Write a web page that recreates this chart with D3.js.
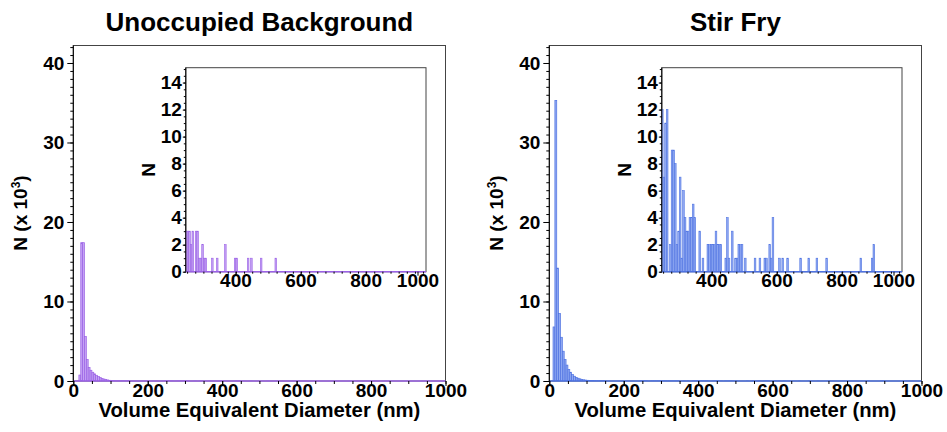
<!DOCTYPE html>
<html>
<head>
<meta charset="utf-8">
<script src="https://cdn.jsdelivr.net/npm/d3@7"></script>
<style>
  html, body { margin: 0; padding: 0; background: #fff; }
  svg text { font-family: "Liberation Sans", Arial, Helvetica, sans-serif; font-weight: bold; fill: #000; }
</style>
</head>
<body>
<svg id="chart" width="947" height="432"></svg>
<script>
// Particle size histograms, 5 nm bins (bin start diameter in nm)
const BIN_WIDTH = 5;

// Small particles: counts in thousands per bin
const smallBinStarts = [10, 15, 20, 25, 30, 35, 40, 45, 50, 55, 60, 65, 70, 75, 80, 85, 90, 95, 100, 105, 110, 115, 120, 125, 130, 135, 140, 145];
const backgroundSmallK = [0, 0.75, 17.4, 17.4, 5.6, 2.7, 1.7, 1.35, 1.1, 0.9, 0.72, 0.56, 0.43, 0.33, 0.25, 0.18, 0.13, 0.09, 0.06, 0.04, 0.03, 0.02, 0.015, 0.01, 0.008, 0.006, 0.005, 0.004];
const stirFrySmallK = [6.8, 35.3, 14.2, 8.5, 5.5, 3.75, 2.7, 2.0, 1.45, 1.1, 0.8, 0.6, 0.45, 0.35, 0.27, 0.2, 0.15, 0.12, 0.09, 0.07, 0.055, 0.045, 0.035, 0.03, 0.025, 0.02, 0.017, 0.015];

// Large particles: raw counts per bin
const backgroundLargeStarts = [245, 250, 255, 260, 265, 275, 280, 285, 290, 295, 300, 305, 325, 340, 365, 395, 400, 435, 445, 475, 520];
const backgroundLargeCounts = [3, 3, 3, 2, 3, 3, 3, 1, 1, 2, 1, 1, 1, 1, 2, 1, 1, 1, 1, 1, 1];
const stirFryLargeStarts = [245, 250, 255, 260, 270, 275, 280, 285, 290, 295, 300, 305, 310, 315, 320, 325, 330, 335, 340, 345, 360, 370, 385, 390, 395, 400, 405, 410, 415, 420, 425, 440, 445, 450, 460, 470, 475, 480, 485, 490, 500, 530, 545, 560, 565, 575, 580, 585, 605, 615, 630, 670, 695, 720, 750, 855, 890, 895];
const stirFryLargeCounts = [12, 7, 11, 12, 2, 9, 9, 8, 2, 3, 7, 1, 6, 4, 3, 3, 4, 4, 5, 4, 3, 1, 2, 2, 2, 2, 2, 3, 2, 2, 2, 1, 4, 1, 3, 1, 1, 2, 2, 2, 1, 1, 1, 1, 1, 2, 1, 4, 1, 1, 1, 1, 1, 1, 1, 1, 1, 2];

// Axis ticks and labels
const mainXTicks = [0, 200, 400, 600, 800, 1000];
const mainYTicks = [0, 10, 20, 30, 40];
const insetXTicks = [400, 600, 800, 1000];
const insetYTicks = [0, 2, 4, 6, 8, 10, 12, 14];
const panelTitles = ["Unoccupied Background", "Stir Fry"];
const xAxisTitle = "Volume Equivalent Diameter (nm)";
const insetYTitle = "N";

const panels = [
  { title: panelTitles[0], small: backgroundSmallK, largeStarts: backgroundLargeStarts, largeCounts: backgroundLargeCounts,
    stroke: "#9b62e6", fill: "#c4a2f3", ox: 0 },
  { title: panelTitles[1], small: stirFrySmallK, largeStarts: stirFryLargeStarts, largeCounts: stirFryLargeCounts,
    stroke: "#4f73e2", fill: "#91aaf2", ox: 476 }
];

const svg = d3.select("#chart");
const FONT = 19;
const frameColor = "#444";
const fmt = d3.format("d");

function buildBins(p) {
  const bins = [];
  smallBinStarts.forEach((s, i) => { if (p.small[i] > 0) bins.push({ start: s, count: p.small[i] * 1000 }); });
  p.largeStarts.forEach((s, i) => bins.push({ start: s, count: p.largeCounts[i] }));
  return bins;
}

function styleAxis(g) {
  g.select(".domain").remove();
  g.attr("font-size", null).attr("font-family", null);
  g.selectAll("text").style("font-size", FONT + "px");
  g.selectAll(".tick line").attr("stroke", "#000");
}

panels.forEach((p, pi) => {
  const bins = buildBins(p);
  const g = svg.append("g");

  // ---------- main histogram ----------
  const mx0 = 73.3 + p.ox, mx1 = 445.5 + p.ox, my0 = 381, my1 = 45.5;
  const x = d3.scaleLinear().domain([0, 1000]).range([mx0, mx1]);
  const y = d3.scaleLinear().domain([0, 42.2]).range([my0, my1]);

  const clipId = "clipMain" + pi;
  g.append("clipPath").attr("id", clipId).append("rect")
    .attr("x", mx0).attr("y", my1).attr("width", mx1 - mx0).attr("height", my0 - my1);

  g.append("rect").attr("x", mx0).attr("y", my1).attr("width", mx1 - mx0).attr("height", my0 - my1)
    .attr("fill", "none").attr("stroke", frameColor).attr("stroke-width", 1);

  const mainBars = g.append("g").attr("clip-path", `url(#${clipId})`);
  mainBars.selectAll("rect").data(bins).join("rect")
    .attr("x", d => x(d.start))
    .attr("width", d => x(d.start + BIN_WIDTH) - x(d.start))
    .attr("y", d => y(d.count / 1000))
    .attr("height", d => y(0) - y(d.count / 1000))
    .attr("fill", p.fill).attr("stroke", p.stroke).attr("stroke-width", 0.7);
  g.append("line").attr("x1", x(0)).attr("x2", x(1000)).attr("y1", y(0)).attr("y2", y(0))
    .attr("stroke", p.stroke).attr("stroke-width", 1.6);

  // main axes
  const xMinor = g.append("g").attr("transform", `translate(0,${my0})`)
    .call(d3.axisBottom(x).tickValues(d3.range(0, 1001, 50)).tickSize(3).tickFormat(""));
  styleAxis(xMinor);
  const xMajor = g.append("g").attr("transform", `translate(0,${my0})`)
    .call(d3.axisBottom(x).tickValues(mainXTicks).tickSize(5).tickPadding(0).tickFormat(fmt));
  styleAxis(xMajor);
  xMajor.selectAll("text").attr("y", 2);

  const yMinor = g.append("g").attr("transform", `translate(${mx0},0)`)
    .call(d3.axisLeft(y).tickValues(d3.range(0, 43, 1)).tickSize(3).tickFormat(""));
  styleAxis(yMinor);
  const yMajor = g.append("g").attr("transform", `translate(${mx0},0)`)
    .call(d3.axisLeft(y).tickValues(mainYTicks).tickSize(6).tickPadding(3).tickFormat(fmt));
  styleAxis(yMajor);
  g.append("line").attr("x1", mx0).attr("x2", mx0).attr("y1", my1).attr("y2", my0)
    .attr("stroke", "#000").attr("stroke-width", 1);

  // titles
  g.append("text").attr("x", (mx0 + mx1) / 2).attr("y", 31).attr("text-anchor", "middle")
    .style("font-size", "26px").text(p.title);
  g.append("text").attr("x", (mx0 + mx1) / 2).attr("y", 417).attr("text-anchor", "middle")
    .style("font-size", "20.3px").text(xAxisTitle);
  const yt = g.append("text").attr("transform", `translate(${mx0 - 46},213) rotate(-90)`)
    .attr("text-anchor", "middle").style("font-size", "19px");
  yt.append("tspan").text("N (x 10");
  yt.append("tspan").attr("baseline-shift", "super").style("font-size", "12px").text("3");
  yt.append("tspan").text(")");

  // ---------- inset ----------
  const ix0 = 185.8 + p.ox, ix1 = 426 + p.ox, iy0 = 271.7, iy1 = 67.7;
  const xi = d3.scaleLinear().domain([246, 984]).range([ix0, ix1]);
  const yi = d3.scaleLinear().domain([0, 15.1]).range([iy0, iy1]);

  g.append("rect").attr("x", ix0).attr("y", iy1).attr("width", ix1 - ix0).attr("height", iy0 - iy1)
    .attr("fill", "#fff").attr("stroke", frameColor).attr("stroke-width", 1);

  const insetClip = "clipInset" + pi;
  g.append("clipPath").attr("id", insetClip).append("rect")
    .attr("x", ix0).attr("y", iy1).attr("width", ix1 - ix0).attr("height", iy0 - iy1);
  const insetBins = bins.filter(d => d.start + BIN_WIDTH > xi.domain()[0]);
  g.append("g").attr("clip-path", `url(#${insetClip})`)
    .selectAll("rect").data(insetBins).join("rect")
    .attr("x", d => xi(d.start))
    .attr("width", d => xi(d.start + BIN_WIDTH) - xi(d.start))
    .attr("y", d => yi(d.count))
    .attr("height", d => yi(0) - yi(d.count))
    .attr("fill", p.fill).attr("stroke", p.stroke).attr("stroke-width", 0.6);
  g.append("line").attr("x1", ix0).attr("x2", ix1).attr("y1", iy0).attr("y2", iy0)
    .attr("stroke", p.stroke).attr("stroke-width", 1.6);

  const ixMinor = g.append("g").attr("transform", `translate(0,${iy0})`)
    .call(d3.axisBottom(xi).tickValues(d3.range(250, 985, 25)).tickSize(2).tickFormat(""));
  styleAxis(ixMinor);
  const ixMajor = g.append("g").attr("transform", `translate(0,${iy0})`)
    .call(d3.axisBottom(xi).tickValues(insetXTicks).tickSize(4).tickPadding(0).tickFormat(fmt));
  styleAxis(ixMajor);
  ixMajor.selectAll(".tick").attr("transform", d => `translate(${Math.min(xi(d), ix1 - 8)},0)`);
  ixMajor.selectAll("text").attr("y", 2);

  const iyMinor = g.append("g").attr("transform", `translate(${ix0},0)`)
    .call(d3.axisLeft(yi).tickValues(d3.range(0, 15.1, 0.5)).tickSize(2).tickFormat(""));
  styleAxis(iyMinor);
  const iyMajor = g.append("g").attr("transform", `translate(${ix0},0)`)
    .call(d3.axisLeft(yi).tickValues(insetYTicks).tickSize(3).tickPadding(1).tickFormat(fmt));
  styleAxis(iyMajor);
  g.append("line").attr("x1", ix0).attr("x2", ix0).attr("y1", iy1).attr("y2", iy0)
    .attr("stroke", "#000").attr("stroke-width", 1);

  g.append("text").attr("transform", `translate(${ix0 - 31},170) rotate(-90)`)
    .attr("text-anchor", "middle").style("font-size", "19px").text(insetYTitle);
});
</script>
</body>
</html>
